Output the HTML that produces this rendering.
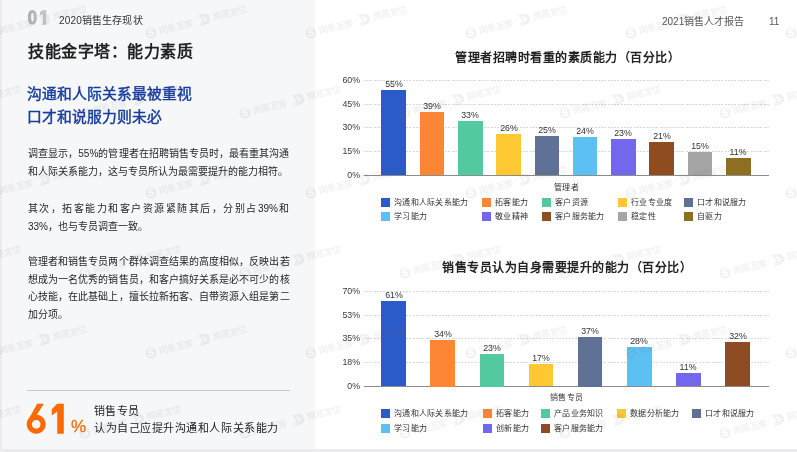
<!DOCTYPE html>
<html lang="zh-CN"><head><meta charset="utf-8"><style>
*{margin:0;padding:0;box-sizing:border-box}
html,body{width:797px;height:452px;overflow:hidden;background:#ebebef;font-family:"Liberation Sans",sans-serif;color:#333}
.a{position:absolute;white-space:nowrap;will-change:transform}
.b{position:absolute}
.hd{font-size:10px;color:#333;line-height:14px}
.title{font-size:16px;letter-spacing:0.5px;font-weight:bold;color:#222;line-height:22px}
.sub{font-size:14.8px;color:#183d9f;font-weight:normal;-webkit-text-stroke:0.45px #183d9f;line-height:20px}
.ln{font-size:10px;line-height:14px;color:#262626;font-weight:400;text-align:justify;text-align-last:justify}
.ln2{font-size:10px;line-height:14px;color:#262626;font-weight:400}
.big{font-size:42px;font-weight:bold;color:#ff6a00;line-height:48px}
.pct{font-size:17px;color:#ff6a00;line-height:20px}
.sm{font-size:11px;color:#222;line-height:15px}
.ct{font-size:12px;letter-spacing:0.5px;font-weight:bold;color:#222;line-height:16px}
.yl{font-size:8.8px;color:#3a3a3a;line-height:11px;text-align:right;width:30px}
.vl{font-size:8.8px;color:#333;line-height:10px;text-align:center;width:40px}
.lt{font-size:8px;letter-spacing:0.25px;color:#333;line-height:10px}
.grid{position:absolute;height:1px;background:repeating-linear-gradient(to right,#d9d9d9 0 2px,transparent 2px 3.25px)}
</style></head><body>
<div class="b" style="left:2px;top:0px;width:795px;height:449px;background:#ffffff;"></div>
<div class="b" style="left:2px;top:0px;width:313px;height:449px;background:#f6f7f9;"></div>
<svg class="b" style="left:0;top:0" width="100" height="40"><defs><linearGradient id="g01" x1="27" y1="0" x2="47" y2="0" gradientUnits="userSpaceOnUse"><stop offset="0" stop-color="#adadad"/><stop offset="1" stop-color="#c9c9c9"/></linearGradient></defs><g fill="url(#g01)"><path d="M32.4 9.9c-3.1 0-4.5 2.9-4.5 7.4s1.4 7.45 4.5 7.45 4.5-2.9 4.5-7.45-1.4-7.4-4.5-7.4zm0 3.1c0.9 0 1.2 1.6 1.2 4.3s-0.3 4.35-1.2 4.35-1.2-1.6-1.2-4.35 0.3-4.3 1.2-4.3z"/><path d="M42.9 9.9h3.3v14.85h-3.3v-11.1l-2.9 1.6v-3.1z"/></g></svg>
<div class="a hd" style="left:59px;top:14px;font-size:10px;letter-spacing:0.15px">2020销售生存现状</div>
<div class="a hd" style="left:662px;top:15px;color:#555">2021销售人才报告</div>
<div class="a hd" style="left:768.5px;top:15px;color:#555">11</div>
<div class="a title" style="left:27.5px;top:40.5px;">技能金字塔：能力素质</div>
<div class="a sub" style="left:27.2px;top:84px;">沟通和人际关系最被重视</div>
<div class="a sub" style="left:27.2px;top:106.5px;">口才和说服力则未必</div>
<div class="a ln" style="left:27.5px;top:146.5px;width:261.5px">调查显示，55%的管理者在招聘销售专员时，最看重其沟通</div>
<div class="a ln2" style="left:27.5px;top:164.5px;">和人际关系能力，这与专员所认为最需要提升的能力相符。</div>
<div class="a ln" style="left:27.5px;top:201.5px;width:261.5px">其次，拓客能力和客户资源紧随其后，分别占39%和</div>
<div class="a ln2" style="left:27.5px;top:219.5px;">33%，也与专员调查一致。</div>
<div class="a ln" style="left:27.5px;top:255px;width:261.5px">管理者和销售专员两个群体调查结果的高度相似，反映出若</div>
<div class="a ln" style="left:27.5px;top:272.7px;width:261.5px">想成为一名优秀的销售员，和客户搞好关系是必不可少的核</div>
<div class="a ln" style="left:27.5px;top:290.4px;width:261.5px">心技能，在此基础上，擅长拉新拓客、自带资源入组是第二</div>
<div class="a ln2" style="left:27.5px;top:308.1px;">加分项。</div>
<div class="b" style="left:27px;top:390px;width:263px;height:1px;background:#c4c4c4;"></div>
<svg class="b" style="left:0;top:380" width="100" height="60"><g fill="#ff6a00" transform="translate(0,-380)"><path d="M36.2 414.8a9.5 9.5 0 1 0 0.01 0zm0 5.2a4.3 4.3 0 1 1 -0.01 0z" fill-rule="evenodd"/><path d="M37.2 403.8h6.6l-9.6 15.2-6.9 2.6z"/><path d="M57.2 403.8h6.6v30h-6.6v-22.4l-5.4 4.1v-6.2z"/></g></svg>
<div class="a pct" style="left:70.5px;top:417px;-webkit-text-stroke:0.3px #ff6a00">%</div>
<div class="a sm" style="left:94px;top:404px;letter-spacing:0.4px">销售专员</div>
<div class="a sm" style="left:94px;top:421px;letter-spacing:0.55px">认为自己应提升沟通和人际关系能力</div>
<div class="a ct" style="left:455px;top:49.5px;">管理者招聘时看重的素质能力（百分比）</div>
<div class="a yl" style="left:330px;top:74.9px;">60%</div>
<div class="grid" style="left:364px;top:79.9px;width:405px"></div>
<div class="a yl" style="left:330px;top:98.8px;">45%</div>
<div class="grid" style="left:364px;top:103.8px;width:405px"></div>
<div class="a yl" style="left:330px;top:122.3px;">30%</div>
<div class="grid" style="left:364px;top:127.3px;width:405px"></div>
<div class="a yl" style="left:330px;top:145.9px;">15%</div>
<div class="grid" style="left:364px;top:150.9px;width:405px"></div>
<div class="a yl" style="left:330px;top:169.7px;">0%</div>
<div class="b" style="left:364px;top:174.7px;width:405px;height:1px;background:#8c8c8c;"></div>
<div class="b" style="left:381.3px;top:90px;width:24.6px;height:85.19999999999999px;background:#2b5bc9;"></div>
<div class="a vl" style="left:373.6px;top:79px;">55%</div>
<div class="b" style="left:419.61px;top:112px;width:24.6px;height:63.19999999999999px;background:#fd8634;"></div>
<div class="a vl" style="left:411.91px;top:101px;">39%</div>
<div class="b" style="left:457.92px;top:121.1px;width:24.6px;height:54.099999999999994px;background:#53c9a0;"></div>
<div class="a vl" style="left:450.22px;top:110.1px;">33%</div>
<div class="b" style="left:496.23px;top:134px;width:24.6px;height:41.19999999999999px;background:#fdc831;"></div>
<div class="a vl" style="left:488.53px;top:123px;">26%</div>
<div class="b" style="left:534.54px;top:136.1px;width:24.6px;height:39.099999999999994px;background:#5f7196;"></div>
<div class="a vl" style="left:526.84px;top:125.1px;">25%</div>
<div class="b" style="left:572.85px;top:137.1px;width:24.6px;height:38.099999999999994px;background:#5cc0f2;"></div>
<div class="a vl" style="left:565.15px;top:126.1px;">24%</div>
<div class="b" style="left:611.16px;top:139.1px;width:24.6px;height:36.099999999999994px;background:#7367ee;"></div>
<div class="a vl" style="left:603.46px;top:128.1px;">23%</div>
<div class="b" style="left:649.47px;top:142px;width:24.6px;height:33.19999999999999px;background:#8f4c20;"></div>
<div class="a vl" style="left:641.77px;top:131px;">21%</div>
<div class="b" style="left:687.78px;top:152.1px;width:24.6px;height:23.099999999999994px;background:#a5a5a5;"></div>
<div class="a vl" style="left:680.08px;top:141.1px;">15%</div>
<div class="b" style="left:726.09px;top:157.9px;width:24.6px;height:17.299999999999983px;background:#8e6f22;"></div>
<div class="a vl" style="left:718.39px;top:146.9px;">11%</div>
<div class="a lt" style="left:553.5px;top:182.5px;">管理者</div>
<div class="b" style="left:381px;top:198px;width:9px;height:9px;background:#2b5bc9;"></div>
<div class="a lt" style="left:394px;top:198px;">沟通和人际关系能力</div>
<div class="b" style="left:482px;top:198px;width:9px;height:9px;background:#fd8634;"></div>
<div class="a lt" style="left:495px;top:198px;">拓客能力</div>
<div class="b" style="left:541.5px;top:198px;width:9px;height:9px;background:#53c9a0;"></div>
<div class="a lt" style="left:554.5px;top:198px;">客户资源</div>
<div class="b" style="left:617.5px;top:198px;width:9px;height:9px;background:#fdc831;"></div>
<div class="a lt" style="left:630.5px;top:198px;">行业专业度</div>
<div class="b" style="left:684px;top:198px;width:9px;height:9px;background:#5f7196;"></div>
<div class="a lt" style="left:697px;top:198px;">口才和说服力</div>
<div class="b" style="left:381px;top:212px;width:9px;height:9px;background:#5cc0f2;"></div>
<div class="a lt" style="left:394px;top:212px;">学习能力</div>
<div class="b" style="left:482px;top:212px;width:9px;height:9px;background:#7367ee;"></div>
<div class="a lt" style="left:495px;top:212px;">敬业精神</div>
<div class="b" style="left:541.5px;top:212px;width:9px;height:9px;background:#8f4c20;"></div>
<div class="a lt" style="left:554.5px;top:212px;">客户服务能力</div>
<div class="b" style="left:617.5px;top:212px;width:9px;height:9px;background:#a5a5a5;"></div>
<div class="a lt" style="left:630.5px;top:212px;">稳定性</div>
<div class="b" style="left:684px;top:212px;width:9px;height:9px;background:#8e6f22;"></div>
<div class="a lt" style="left:697px;top:212px;">自驱力</div>
<div class="a ct" style="left:442px;top:259.5px;">销售专员认为自身需要提升的能力（百分比）</div>
<div class="a yl" style="left:330px;top:285.7px;">70%</div>
<div class="grid" style="left:364px;top:290.7px;width:405px"></div>
<div class="a yl" style="left:330px;top:309.5px;">53%</div>
<div class="grid" style="left:364px;top:314.5px;width:405px"></div>
<div class="a yl" style="left:330px;top:333.1px;">35%</div>
<div class="grid" style="left:364px;top:338.1px;width:405px"></div>
<div class="a yl" style="left:330px;top:356.9px;">18%</div>
<div class="grid" style="left:364px;top:361.9px;width:405px"></div>
<div class="a yl" style="left:330px;top:381.0px;">0%</div>
<div class="b" style="left:364px;top:386.0px;width:405px;height:1px;background:#8c8c8c;"></div>
<div class="b" style="left:381.2px;top:300.9px;width:24.7px;height:85.60000000000002px;background:#2b5bc9;"></div>
<div class="a vl" style="left:373.55px;top:289.9px;">61%</div>
<div class="b" style="left:430.35px;top:340px;width:24.7px;height:46.5px;background:#fd8634;"></div>
<div class="a vl" style="left:422.7px;top:329px;">34%</div>
<div class="b" style="left:479.5px;top:354px;width:24.7px;height:32.5px;background:#53c9a0;"></div>
<div class="a vl" style="left:471.85px;top:343px;">23%</div>
<div class="b" style="left:528.65px;top:363.9px;width:24.7px;height:22.600000000000023px;background:#fdc831;"></div>
<div class="a vl" style="left:521.0px;top:352.9px;">17%</div>
<div class="b" style="left:577.8px;top:337px;width:24.7px;height:49.5px;background:#5f7196;"></div>
<div class="a vl" style="left:570.15px;top:326px;">37%</div>
<div class="b" style="left:626.95px;top:347.1px;width:24.7px;height:39.39999999999998px;background:#5cc0f2;"></div>
<div class="a vl" style="left:619.3px;top:336.1px;">28%</div>
<div class="b" style="left:676.1px;top:372.9px;width:24.7px;height:13.600000000000023px;background:#7367ee;"></div>
<div class="a vl" style="left:668.45px;top:361.9px;">11%</div>
<div class="b" style="left:725.25px;top:342.1px;width:24.7px;height:44.39999999999998px;background:#8f4c20;"></div>
<div class="a vl" style="left:717.6px;top:331.1px;">32%</div>
<div class="a lt" style="left:550px;top:392.5px;">销售专员</div>
<div class="b" style="left:381px;top:409px;width:9px;height:9px;background:#2b5bc9;"></div>
<div class="a lt" style="left:394px;top:409px;">沟通和人际关系能力</div>
<div class="b" style="left:482.5px;top:409px;width:9px;height:9px;background:#fd8634;"></div>
<div class="a lt" style="left:495.5px;top:409px;">拓客能力</div>
<div class="b" style="left:541.3px;top:409px;width:9px;height:9px;background:#53c9a0;"></div>
<div class="a lt" style="left:554.3px;top:409px;">产品业务知识</div>
<div class="b" style="left:617.1px;top:409px;width:9px;height:9px;background:#fdc831;"></div>
<div class="a lt" style="left:630.1px;top:409px;">数据分析能力</div>
<div class="b" style="left:692.3px;top:409px;width:9px;height:9px;background:#5f7196;"></div>
<div class="a lt" style="left:705.3px;top:409px;">口才和说服力</div>
<div class="b" style="left:381px;top:423.5px;width:9px;height:9px;background:#5cc0f2;"></div>
<div class="a lt" style="left:394px;top:423.5px;">学习能力</div>
<div class="b" style="left:482.5px;top:423.5px;width:9px;height:9px;background:#7367ee;"></div>
<div class="a lt" style="left:495.5px;top:423.5px;">创新能力</div>
<div class="b" style="left:541.3px;top:423.5px;width:9px;height:9px;background:#8f4c20;"></div>
<div class="a lt" style="left:554.3px;top:423.5px;">客户服务能力</div>
<svg class="b" style="left:0;top:0;font-family:'Liberation Sans',sans-serif" width="797" height="452"><defs><mask id="ms" maskUnits="userSpaceOnUse" x="-10" y="-10" width="20" height="20"><rect x="-10" y="-10" width="20" height="20" fill="#fff"/><path d="M2.6 -2.4c-0.9-1-2.4-1.3-3.5-0.8s-1.4 1.5-0.4 2.1 2.6 0.5 3.2 1.4-0.3 2.2-1.6 2.2-2.4-0.5-3-1.2" fill="none" stroke="#000" stroke-width="1.7"/></mask><mask id="md" maskUnits="userSpaceOnUse" x="45" y="-10" width="20" height="20"><rect x="45" y="-10" width="20" height="20" fill="#fff"/><path d="M53.5 -2.5l3.5 2.5-3.5 2.5" fill="none" stroke="#000" stroke-width="1.6"/></mask></defs><g fill="rgba(110,110,110,0.085)"><g transform="translate(-9,33) rotate(-14.5)"><circle r="5.6" mask="url(#ms)"/><text x="8.5" y="3.3" font-size="9" font-weight="bold" letter-spacing="-0.3">网易互客</text><path d="M49.5 -5.6h6a5.6 5.6 0 0 1 0 11.2h-6l3.2-5.6z" mask="url(#md)"/><text x="64" y="3.3" font-size="9" font-weight="bold" letter-spacing="-0.3">网易定位</text></g><g transform="translate(151,33) rotate(-14.5)"><circle r="5.6" mask="url(#ms)"/><text x="8.5" y="3.3" font-size="9" font-weight="bold" letter-spacing="-0.3">网易互客</text><path d="M49.5 -5.6h6a5.6 5.6 0 0 1 0 11.2h-6l3.2-5.6z" mask="url(#md)"/><text x="64" y="3.3" font-size="9" font-weight="bold" letter-spacing="-0.3">网易定位</text></g><g transform="translate(311,33) rotate(-14.5)"><circle r="5.6" mask="url(#ms)"/><text x="8.5" y="3.3" font-size="9" font-weight="bold" letter-spacing="-0.3">网易互客</text><path d="M49.5 -5.6h6a5.6 5.6 0 0 1 0 11.2h-6l3.2-5.6z" mask="url(#md)"/><text x="64" y="3.3" font-size="9" font-weight="bold" letter-spacing="-0.3">网易定位</text></g><g transform="translate(471,33) rotate(-14.5)"><circle r="5.6" mask="url(#ms)"/><text x="8.5" y="3.3" font-size="9" font-weight="bold" letter-spacing="-0.3">网易互客</text><path d="M49.5 -5.6h6a5.6 5.6 0 0 1 0 11.2h-6l3.2-5.6z" mask="url(#md)"/><text x="64" y="3.3" font-size="9" font-weight="bold" letter-spacing="-0.3">网易定位</text></g><g transform="translate(631,33) rotate(-14.5)"><circle r="5.6" mask="url(#ms)"/><text x="8.5" y="3.3" font-size="9" font-weight="bold" letter-spacing="-0.3">网易互客</text><path d="M49.5 -5.6h6a5.6 5.6 0 0 1 0 11.2h-6l3.2-5.6z" mask="url(#md)"/><text x="64" y="3.3" font-size="9" font-weight="bold" letter-spacing="-0.3">网易定位</text></g><g transform="translate(791,33) rotate(-14.5)"><circle r="5.6" mask="url(#ms)"/><text x="8.5" y="3.3" font-size="9" font-weight="bold" letter-spacing="-0.3">网易互客</text><path d="M49.5 -5.6h6a5.6 5.6 0 0 1 0 11.2h-6l3.2-5.6z" mask="url(#md)"/><text x="64" y="3.3" font-size="9" font-weight="bold" letter-spacing="-0.3">网易定位</text></g><g transform="translate(-9,193) rotate(-14.5)"><circle r="5.6" mask="url(#ms)"/><text x="8.5" y="3.3" font-size="9" font-weight="bold" letter-spacing="-0.3">网易互客</text><path d="M49.5 -5.6h6a5.6 5.6 0 0 1 0 11.2h-6l3.2-5.6z" mask="url(#md)"/><text x="64" y="3.3" font-size="9" font-weight="bold" letter-spacing="-0.3">网易定位</text></g><g transform="translate(151,193) rotate(-14.5)"><circle r="5.6" mask="url(#ms)"/><text x="8.5" y="3.3" font-size="9" font-weight="bold" letter-spacing="-0.3">网易互客</text><path d="M49.5 -5.6h6a5.6 5.6 0 0 1 0 11.2h-6l3.2-5.6z" mask="url(#md)"/><text x="64" y="3.3" font-size="9" font-weight="bold" letter-spacing="-0.3">网易定位</text></g><g transform="translate(311,193) rotate(-14.5)"><circle r="5.6" mask="url(#ms)"/><text x="8.5" y="3.3" font-size="9" font-weight="bold" letter-spacing="-0.3">网易互客</text><path d="M49.5 -5.6h6a5.6 5.6 0 0 1 0 11.2h-6l3.2-5.6z" mask="url(#md)"/><text x="64" y="3.3" font-size="9" font-weight="bold" letter-spacing="-0.3">网易定位</text></g><g transform="translate(471,193) rotate(-14.5)"><circle r="5.6" mask="url(#ms)"/><text x="8.5" y="3.3" font-size="9" font-weight="bold" letter-spacing="-0.3">网易互客</text><path d="M49.5 -5.6h6a5.6 5.6 0 0 1 0 11.2h-6l3.2-5.6z" mask="url(#md)"/><text x="64" y="3.3" font-size="9" font-weight="bold" letter-spacing="-0.3">网易定位</text></g><g transform="translate(631,193) rotate(-14.5)"><circle r="5.6" mask="url(#ms)"/><text x="8.5" y="3.3" font-size="9" font-weight="bold" letter-spacing="-0.3">网易互客</text><path d="M49.5 -5.6h6a5.6 5.6 0 0 1 0 11.2h-6l3.2-5.6z" mask="url(#md)"/><text x="64" y="3.3" font-size="9" font-weight="bold" letter-spacing="-0.3">网易定位</text></g><g transform="translate(791,193) rotate(-14.5)"><circle r="5.6" mask="url(#ms)"/><text x="8.5" y="3.3" font-size="9" font-weight="bold" letter-spacing="-0.3">网易互客</text><path d="M49.5 -5.6h6a5.6 5.6 0 0 1 0 11.2h-6l3.2-5.6z" mask="url(#md)"/><text x="64" y="3.3" font-size="9" font-weight="bold" letter-spacing="-0.3">网易定位</text></g><g transform="translate(-9,353) rotate(-14.5)"><circle r="5.6" mask="url(#ms)"/><text x="8.5" y="3.3" font-size="9" font-weight="bold" letter-spacing="-0.3">网易互客</text><path d="M49.5 -5.6h6a5.6 5.6 0 0 1 0 11.2h-6l3.2-5.6z" mask="url(#md)"/><text x="64" y="3.3" font-size="9" font-weight="bold" letter-spacing="-0.3">网易定位</text></g><g transform="translate(151,353) rotate(-14.5)"><circle r="5.6" mask="url(#ms)"/><text x="8.5" y="3.3" font-size="9" font-weight="bold" letter-spacing="-0.3">网易互客</text><path d="M49.5 -5.6h6a5.6 5.6 0 0 1 0 11.2h-6l3.2-5.6z" mask="url(#md)"/><text x="64" y="3.3" font-size="9" font-weight="bold" letter-spacing="-0.3">网易定位</text></g><g transform="translate(311,353) rotate(-14.5)"><circle r="5.6" mask="url(#ms)"/><text x="8.5" y="3.3" font-size="9" font-weight="bold" letter-spacing="-0.3">网易互客</text><path d="M49.5 -5.6h6a5.6 5.6 0 0 1 0 11.2h-6l3.2-5.6z" mask="url(#md)"/><text x="64" y="3.3" font-size="9" font-weight="bold" letter-spacing="-0.3">网易定位</text></g><g transform="translate(471,353) rotate(-14.5)"><circle r="5.6" mask="url(#ms)"/><text x="8.5" y="3.3" font-size="9" font-weight="bold" letter-spacing="-0.3">网易互客</text><path d="M49.5 -5.6h6a5.6 5.6 0 0 1 0 11.2h-6l3.2-5.6z" mask="url(#md)"/><text x="64" y="3.3" font-size="9" font-weight="bold" letter-spacing="-0.3">网易定位</text></g><g transform="translate(631,353) rotate(-14.5)"><circle r="5.6" mask="url(#ms)"/><text x="8.5" y="3.3" font-size="9" font-weight="bold" letter-spacing="-0.3">网易互客</text><path d="M49.5 -5.6h6a5.6 5.6 0 0 1 0 11.2h-6l3.2-5.6z" mask="url(#md)"/><text x="64" y="3.3" font-size="9" font-weight="bold" letter-spacing="-0.3">网易定位</text></g><g transform="translate(791,353) rotate(-14.5)"><circle r="5.6" mask="url(#ms)"/><text x="8.5" y="3.3" font-size="9" font-weight="bold" letter-spacing="-0.3">网易互客</text><path d="M49.5 -5.6h6a5.6 5.6 0 0 1 0 11.2h-6l3.2-5.6z" mask="url(#md)"/><text x="64" y="3.3" font-size="9" font-weight="bold" letter-spacing="-0.3">网易定位</text></g><g transform="translate(-75,-47) rotate(-14.5)"><circle r="5.6" mask="url(#ms)"/><text x="8.5" y="3.3" font-size="9" font-weight="bold" letter-spacing="-0.3">网易互客</text><path d="M49.5 -5.6h6a5.6 5.6 0 0 1 0 11.2h-6l3.2-5.6z" mask="url(#md)"/><text x="64" y="3.3" font-size="9" font-weight="bold" letter-spacing="-0.3">网易定位</text></g><g transform="translate(85,-47) rotate(-14.5)"><circle r="5.6" mask="url(#ms)"/><text x="8.5" y="3.3" font-size="9" font-weight="bold" letter-spacing="-0.3">网易互客</text><path d="M49.5 -5.6h6a5.6 5.6 0 0 1 0 11.2h-6l3.2-5.6z" mask="url(#md)"/><text x="64" y="3.3" font-size="9" font-weight="bold" letter-spacing="-0.3">网易定位</text></g><g transform="translate(245,-47) rotate(-14.5)"><circle r="5.6" mask="url(#ms)"/><text x="8.5" y="3.3" font-size="9" font-weight="bold" letter-spacing="-0.3">网易互客</text><path d="M49.5 -5.6h6a5.6 5.6 0 0 1 0 11.2h-6l3.2-5.6z" mask="url(#md)"/><text x="64" y="3.3" font-size="9" font-weight="bold" letter-spacing="-0.3">网易定位</text></g><g transform="translate(405,-47) rotate(-14.5)"><circle r="5.6" mask="url(#ms)"/><text x="8.5" y="3.3" font-size="9" font-weight="bold" letter-spacing="-0.3">网易互客</text><path d="M49.5 -5.6h6a5.6 5.6 0 0 1 0 11.2h-6l3.2-5.6z" mask="url(#md)"/><text x="64" y="3.3" font-size="9" font-weight="bold" letter-spacing="-0.3">网易定位</text></g><g transform="translate(565,-47) rotate(-14.5)"><circle r="5.6" mask="url(#ms)"/><text x="8.5" y="3.3" font-size="9" font-weight="bold" letter-spacing="-0.3">网易互客</text><path d="M49.5 -5.6h6a5.6 5.6 0 0 1 0 11.2h-6l3.2-5.6z" mask="url(#md)"/><text x="64" y="3.3" font-size="9" font-weight="bold" letter-spacing="-0.3">网易定位</text></g><g transform="translate(725,-47) rotate(-14.5)"><circle r="5.6" mask="url(#ms)"/><text x="8.5" y="3.3" font-size="9" font-weight="bold" letter-spacing="-0.3">网易互客</text><path d="M49.5 -5.6h6a5.6 5.6 0 0 1 0 11.2h-6l3.2-5.6z" mask="url(#md)"/><text x="64" y="3.3" font-size="9" font-weight="bold" letter-spacing="-0.3">网易定位</text></g><g transform="translate(-75,113) rotate(-14.5)"><circle r="5.6" mask="url(#ms)"/><text x="8.5" y="3.3" font-size="9" font-weight="bold" letter-spacing="-0.3">网易互客</text><path d="M49.5 -5.6h6a5.6 5.6 0 0 1 0 11.2h-6l3.2-5.6z" mask="url(#md)"/><text x="64" y="3.3" font-size="9" font-weight="bold" letter-spacing="-0.3">网易定位</text></g><g transform="translate(85,113) rotate(-14.5)"><circle r="5.6" mask="url(#ms)"/><text x="8.5" y="3.3" font-size="9" font-weight="bold" letter-spacing="-0.3">网易互客</text><path d="M49.5 -5.6h6a5.6 5.6 0 0 1 0 11.2h-6l3.2-5.6z" mask="url(#md)"/><text x="64" y="3.3" font-size="9" font-weight="bold" letter-spacing="-0.3">网易定位</text></g><g transform="translate(245,113) rotate(-14.5)"><circle r="5.6" mask="url(#ms)"/><text x="8.5" y="3.3" font-size="9" font-weight="bold" letter-spacing="-0.3">网易互客</text><path d="M49.5 -5.6h6a5.6 5.6 0 0 1 0 11.2h-6l3.2-5.6z" mask="url(#md)"/><text x="64" y="3.3" font-size="9" font-weight="bold" letter-spacing="-0.3">网易定位</text></g><g transform="translate(405,113) rotate(-14.5)"><circle r="5.6" mask="url(#ms)"/><text x="8.5" y="3.3" font-size="9" font-weight="bold" letter-spacing="-0.3">网易互客</text><path d="M49.5 -5.6h6a5.6 5.6 0 0 1 0 11.2h-6l3.2-5.6z" mask="url(#md)"/><text x="64" y="3.3" font-size="9" font-weight="bold" letter-spacing="-0.3">网易定位</text></g><g transform="translate(565,113) rotate(-14.5)"><circle r="5.6" mask="url(#ms)"/><text x="8.5" y="3.3" font-size="9" font-weight="bold" letter-spacing="-0.3">网易互客</text><path d="M49.5 -5.6h6a5.6 5.6 0 0 1 0 11.2h-6l3.2-5.6z" mask="url(#md)"/><text x="64" y="3.3" font-size="9" font-weight="bold" letter-spacing="-0.3">网易定位</text></g><g transform="translate(725,113) rotate(-14.5)"><circle r="5.6" mask="url(#ms)"/><text x="8.5" y="3.3" font-size="9" font-weight="bold" letter-spacing="-0.3">网易互客</text><path d="M49.5 -5.6h6a5.6 5.6 0 0 1 0 11.2h-6l3.2-5.6z" mask="url(#md)"/><text x="64" y="3.3" font-size="9" font-weight="bold" letter-spacing="-0.3">网易定位</text></g><g transform="translate(-75,273) rotate(-14.5)"><circle r="5.6" mask="url(#ms)"/><text x="8.5" y="3.3" font-size="9" font-weight="bold" letter-spacing="-0.3">网易互客</text><path d="M49.5 -5.6h6a5.6 5.6 0 0 1 0 11.2h-6l3.2-5.6z" mask="url(#md)"/><text x="64" y="3.3" font-size="9" font-weight="bold" letter-spacing="-0.3">网易定位</text></g><g transform="translate(85,273) rotate(-14.5)"><circle r="5.6" mask="url(#ms)"/><text x="8.5" y="3.3" font-size="9" font-weight="bold" letter-spacing="-0.3">网易互客</text><path d="M49.5 -5.6h6a5.6 5.6 0 0 1 0 11.2h-6l3.2-5.6z" mask="url(#md)"/><text x="64" y="3.3" font-size="9" font-weight="bold" letter-spacing="-0.3">网易定位</text></g><g transform="translate(245,273) rotate(-14.5)"><circle r="5.6" mask="url(#ms)"/><text x="8.5" y="3.3" font-size="9" font-weight="bold" letter-spacing="-0.3">网易互客</text><path d="M49.5 -5.6h6a5.6 5.6 0 0 1 0 11.2h-6l3.2-5.6z" mask="url(#md)"/><text x="64" y="3.3" font-size="9" font-weight="bold" letter-spacing="-0.3">网易定位</text></g><g transform="translate(405,273) rotate(-14.5)"><circle r="5.6" mask="url(#ms)"/><text x="8.5" y="3.3" font-size="9" font-weight="bold" letter-spacing="-0.3">网易互客</text><path d="M49.5 -5.6h6a5.6 5.6 0 0 1 0 11.2h-6l3.2-5.6z" mask="url(#md)"/><text x="64" y="3.3" font-size="9" font-weight="bold" letter-spacing="-0.3">网易定位</text></g><g transform="translate(565,273) rotate(-14.5)"><circle r="5.6" mask="url(#ms)"/><text x="8.5" y="3.3" font-size="9" font-weight="bold" letter-spacing="-0.3">网易互客</text><path d="M49.5 -5.6h6a5.6 5.6 0 0 1 0 11.2h-6l3.2-5.6z" mask="url(#md)"/><text x="64" y="3.3" font-size="9" font-weight="bold" letter-spacing="-0.3">网易定位</text></g><g transform="translate(725,273) rotate(-14.5)"><circle r="5.6" mask="url(#ms)"/><text x="8.5" y="3.3" font-size="9" font-weight="bold" letter-spacing="-0.3">网易互客</text><path d="M49.5 -5.6h6a5.6 5.6 0 0 1 0 11.2h-6l3.2-5.6z" mask="url(#md)"/><text x="64" y="3.3" font-size="9" font-weight="bold" letter-spacing="-0.3">网易定位</text></g><g transform="translate(-75,433) rotate(-14.5)"><circle r="5.6" mask="url(#ms)"/><text x="8.5" y="3.3" font-size="9" font-weight="bold" letter-spacing="-0.3">网易互客</text><path d="M49.5 -5.6h6a5.6 5.6 0 0 1 0 11.2h-6l3.2-5.6z" mask="url(#md)"/><text x="64" y="3.3" font-size="9" font-weight="bold" letter-spacing="-0.3">网易定位</text></g><g transform="translate(85,433) rotate(-14.5)"><circle r="5.6" mask="url(#ms)"/><text x="8.5" y="3.3" font-size="9" font-weight="bold" letter-spacing="-0.3">网易互客</text><path d="M49.5 -5.6h6a5.6 5.6 0 0 1 0 11.2h-6l3.2-5.6z" mask="url(#md)"/><text x="64" y="3.3" font-size="9" font-weight="bold" letter-spacing="-0.3">网易定位</text></g><g transform="translate(245,433) rotate(-14.5)"><circle r="5.6" mask="url(#ms)"/><text x="8.5" y="3.3" font-size="9" font-weight="bold" letter-spacing="-0.3">网易互客</text><path d="M49.5 -5.6h6a5.6 5.6 0 0 1 0 11.2h-6l3.2-5.6z" mask="url(#md)"/><text x="64" y="3.3" font-size="9" font-weight="bold" letter-spacing="-0.3">网易定位</text></g><g transform="translate(405,433) rotate(-14.5)"><circle r="5.6" mask="url(#ms)"/><text x="8.5" y="3.3" font-size="9" font-weight="bold" letter-spacing="-0.3">网易互客</text><path d="M49.5 -5.6h6a5.6 5.6 0 0 1 0 11.2h-6l3.2-5.6z" mask="url(#md)"/><text x="64" y="3.3" font-size="9" font-weight="bold" letter-spacing="-0.3">网易定位</text></g><g transform="translate(565,433) rotate(-14.5)"><circle r="5.6" mask="url(#ms)"/><text x="8.5" y="3.3" font-size="9" font-weight="bold" letter-spacing="-0.3">网易互客</text><path d="M49.5 -5.6h6a5.6 5.6 0 0 1 0 11.2h-6l3.2-5.6z" mask="url(#md)"/><text x="64" y="3.3" font-size="9" font-weight="bold" letter-spacing="-0.3">网易定位</text></g><g transform="translate(725,433) rotate(-14.5)"><circle r="5.6" mask="url(#ms)"/><text x="8.5" y="3.3" font-size="9" font-weight="bold" letter-spacing="-0.3">网易互客</text><path d="M49.5 -5.6h6a5.6 5.6 0 0 1 0 11.2h-6l3.2-5.6z" mask="url(#md)"/><text x="64" y="3.3" font-size="9" font-weight="bold" letter-spacing="-0.3">网易定位</text></g></g></svg>
</body></html>
